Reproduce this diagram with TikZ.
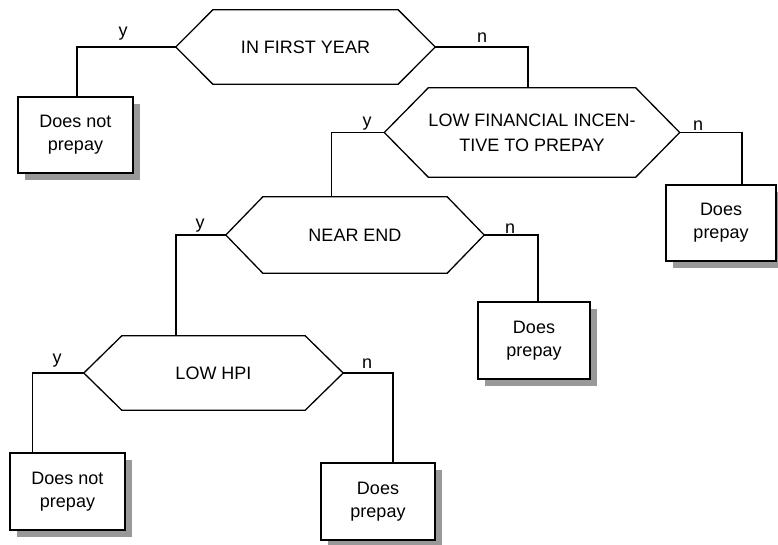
\documentclass[tikz,border=0pt]{standalone}
\usepackage{fontspec}
\setmainfont{Liberation Sans}
\usetikzlibrary{shadows}
\tikzset{
 ln/.style={line width=1.3pt},
 hexnode/.style={inner sep=0pt, align=center, font=\fontsize{18}{25}\selectfont},
 boxnode/.style={draw, ln, fill=white, inner sep=0pt, align=center,
   font=\fontsize{18}{23}\selectfont,
   general shadow={fill=black!40, shadow xshift=7pt, shadow yshift=-7pt}},
 lbl/.style={anchor=base, inner sep=0pt, font=\fontsize{18}{22}\selectfont},
}
\newcommand\hexdraw[2]{%
  \coordinate (#1L) at ([xshift=-#2]#1.west);
  \coordinate (#1R) at ([xshift=#2]#1.east);
  \draw[ln] (#1.north west) -- (#1.north east) -- (#1R) -- (#1.south east)
     -- (#1.south west) -- (#1L) -- cycle;}
\begin{document}
\begin{tikzpicture}[x=1pt,y=-1pt]
\useasboundingbox (0,0) rectangle (778,544);
% decision nodes
\node[hexnode, minimum width=185pt, minimum height=74pt] (h1) at (305.5,47) {IN FIRST YEAR};
\node[hexnode, minimum width=170pt, minimum height=89pt] (h2) at (532,132.5) {LOW FINANCIAL INCEN-\\TIVE TO PREPAY};
\node[hexnode, minimum width=184pt, minimum height=76pt] (h3) at (355,235) {NEAR END};
\node[hexnode, minimum width=183pt, minimum height=74pt] (h4) at (213.5,373) {LOW HPI};
\hexdraw{h1}{37pt}
\hexdraw{h2}{44pt}
\hexdraw{h3}{37pt}
\hexdraw{h4}{38pt}
% outcome boxes
\node[boxnode, minimum width=115pt, minimum height=76pt] (b1) at (75.5,135) {Does not\\prepay};
\node[boxnode, minimum width=110pt, minimum height=76pt] (b2) at (721,223) {Does\\prepay};
\node[boxnode, minimum width=112pt, minimum height=77pt] (b3) at (534,340.5) {Does\\prepay};
\node[boxnode, minimum width=115pt, minimum height=77pt] (b4) at (67.5,491.5) {Does not\\prepay};
\node[boxnode, minimum width=114pt, minimum height=77pt] (b5) at (378,501.5) {Does\\prepay};
% connectors
\draw[ln] (h1L) -| ([xshift=1.5pt]b1.north);
\draw[ln] (h1R) -| ([xshift=-4pt]h2.north);
\draw[ln] (h2L) -| ([xshift=69pt]h3.north west);
\draw[ln] (h2R) -| ([xshift=21pt]b2.north);
\draw[ln] (h3L) -| ([xshift=-37.5pt]h4.north);
\draw[ln] (h3R) -| ([xshift=4pt]b3.north);
\draw[ln] (h4L) -| ([xshift=23pt]b4.north west);
\draw[ln] (h4R) -| ([xshift=15pt]b5.north);
% labels
\node[lbl] (l1y) at (123,36) {y};
\node[lbl] (l1n) at (482,42) {n};
\node[lbl] (l2y) at (367,126) {y};
\node[lbl] (l2n) at (698,130) {n};
\node[lbl] (l3y) at (200,228) {y};
\node[lbl] (l3n) at (510,233) {n};
\node[lbl] (l4y) at (57,363) {y};
\node[lbl] (l4n) at (367,368) {n};
\end{tikzpicture}
\end{document}
